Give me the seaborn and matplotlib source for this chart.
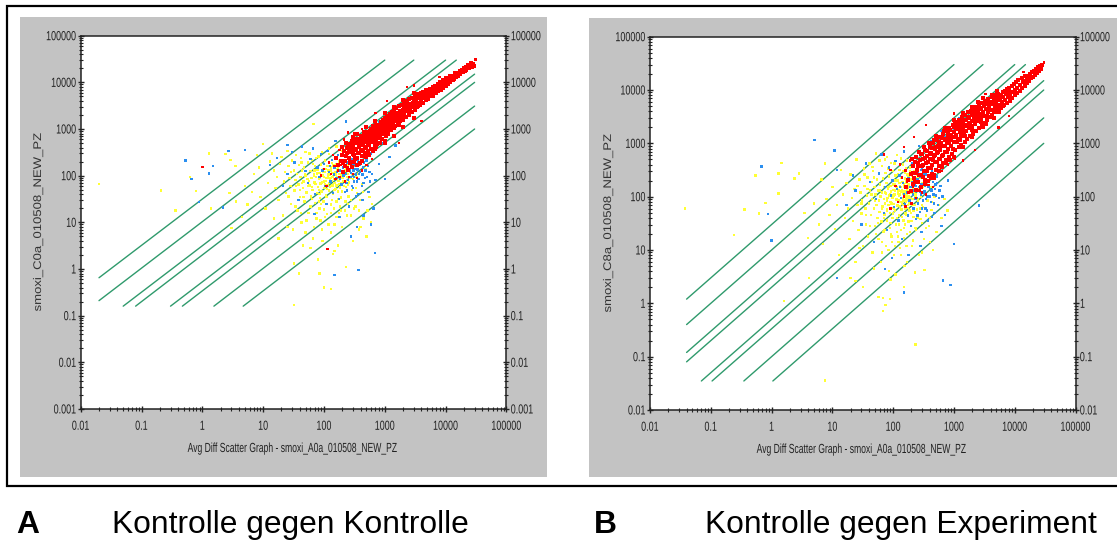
import pandas as pd
import matplotlib
matplotlib.use("Agg")
import matplotlib.pyplot as plt
from matplotlib.patches import Rectangle
from matplotlib.patheffects import AbstractPathEffect
from matplotlib.transforms import Affine2D
from matplotlib.ticker import LogLocator, NullFormatter
import seaborn as sns

# Linien (x0, y0, x1, y1)
lines_a = [(0.02, 0.65, 1000, 30000), (0.02, 0.21, 3000, 30000), (0.05, 0.16, 10000, 30000),
           (0.08, 0.16, 15000, 30000), (0.3, 0.16, 30000, 15000), (0.47, 0.16, 30000, 10000),
           (1.55, 0.16, 30000, 3100), (4.7, 0.16, 30000, 1000)]
lines_b = [(0.04, 1.2, 1000, 30000), (0.04, 0.4, 3000, 30000), (0.04, 0.12, 10000, 30000),
           (0.04, 0.08, 15000, 30000), (0.07, 0.035, 30000, 15000), (0.105, 0.035, 30000, 10000),
           (0.35, 0.035, 30000, 3000), (1.05, 0.035, 30000, 1000)]

yellow_a = [(0.02, 66), (0.21, 48), (0.63, 95), (0.79, 47), (0.36, 18), (1.29, 300), (2.4, 290), (2.9, 215),
            (3.5, 160), (10, 480), (8, 280), (67, 1280), (39, 0.8), (100, 0.4), (130, 0.37), (32, 0.17),
            (1.4, 20), (2.8, 42), (3.6, 28), (5, 60), (6.5, 45), (7, 110), (8.5, 150), (4.5, 13), (3, 7.5),
            (5.5, 24), (9, 35), (11, 20), (12, 70), (13, 200), (14, 300), (15, 130), (16, 55), (17, 95), (18, 30),
            (19, 180), (20, 250), (21, 14), (22, 75), (23, 120), (24, 42), (25, 340), (26, 160), (27, 90),
            (28, 60), (29, 25), (30, 210), (31, 7), (32, 130), (33, 48), (34, 80), (35, 280), (36, 110), (37, 18),
            (38, 65), (39, 170), (40, 35), (41, 95), (42, 240), (43, 10), (44, 130), (45, 55), (46, 75), (47, 150),
            (48, 28), (49, 105), (50, 320), (52, 44), (54, 85), (55, 190), (56, 16), (58, 62), (60, 125), (61, 36),
            (62, 90), (64, 220), (65, 50), (66, 4.5), (68, 110), (70, 72), (71, 26), (72, 160), (74, 95), (75, 12),
            (76, 42), (78, 135), (80, 58), (81, 260), (82, 84), (84, 20), (85, 115), (86, 33), (88, 68), (90, 175),
            (91, 46), (92, 7), (94, 100), (96, 140), (98, 28), (100, 75), (102, 55), (104, 210), (105, 120),
            (108, 38), (110, 88), (112, 15), (114, 160), (115, 64), (118, 105), (120, 48), (122, 290), (125, 80),
            (128, 130), (130, 24), (132, 60), (135, 185), (138, 95), (140, 40), (145, 70), (148, 115), (150, 9),
            (152, 150), (155, 52), (160, 240), (165, 85), (170, 32), (175, 125), (180, 66), (185, 170), (190, 18),
            (195, 100), (200, 46), (205, 210), (210, 78), (220, 130), (225, 28), (230, 58), (240, 95), (250, 160),
            (255, 36), (260, 72), (270, 120), (280, 14), (290, 50), (300, 85), (310, 180), (330, 22), (350, 42),
            (360, 110), (380, 7), (400, 30), (420, 65), (450, 12), (480, 140), (500, 5), (520, 18), (560, 35),
            (600, 10), (140, 2.1), (80, 1.6), (60, 2.8), (45, 3.2), (150, 2.4), (32, 1.3), (230, 1.1), (170, 3.2),
            (300, 4), (400, 8), (620, 25), (85, 0.8), (50, 6), (95, 4), (25, 8), (18, 4.5), (15, 12), (130, 6), (200, 8)]
yellow_a2 = [(57, 78), (63, 58), (69, 98), (73, 66), (77, 112), (83, 50), (87, 88), (93, 72), (97, 120), (101, 95),
             (103, 66), (107, 140), (109, 78), (113, 52), (117, 92), (119, 130), (121, 70), (124, 105), (127, 58),
             (129, 90), (131, 150), (133, 76), (137, 115), (139, 62), (141, 98), (144, 165), (146, 84), (149, 50),
             (151, 120), (153, 70), (157, 105), (159, 180), (161, 62), (163, 135), (167, 92), (169, 46), (172, 150),
             (174, 76), (177, 200), (179, 110), (182, 56), (184, 130), (187, 88), (192, 170), (194, 70), (198, 125),
             (202, 90), (207, 150), (212, 60), (217, 195), (222, 105), (228, 75), (232, 140), (238, 180), (243, 110),
             (248, 64), (256, 210), (264, 130), (272, 88), (282, 170), (295, 110), (305, 230), (320, 140), (345, 95),
             (70, 130), (50, 100), (55, 60), (44, 70), (40, 50), (66, 180), (85, 40), (110, 35), (135, 30), (160, 28),
             (90, 25), (60, 22), (75, 16), (105, 13), (130, 16), (185, 22), (220, 18), (280, 30), (340, 55),
             (26, 36), (34, 22), (42, 16), (52, 11), (68, 8), (88, 11), (118, 9), (160, 13), (190, 34), (250, 25),
             (35, 60), (29, 120), (43, 190), (58, 300), (74, 240), (92, 320), (120, 380), (160, 420), (200, 340),
             (46, 35), (64, 32), (82, 28), (100, 19), (145, 20), (175, 16), (240, 14), (310, 20), (380, 18), (440, 45)]
blue_a = [(0.53, 210), (1.5, 160), (0.66, 85), (1.3, 112), (0.89, 27), (2.2, 21), (2.7, 340), (5, 360), (25, 450),
          (230, 1440), (370, 0.95), (690, 2.2), (150, 0.75), (13, 170), (17, 240), (21, 60), (25, 110), (30, 320),
          (33, 190), (38, 30), (44, 420), (50, 125), (55, 70), (60, 230), (66, 380), (72, 40), (78, 150), (85, 95),
          (90, 290), (100, 180), (105, 60), (110, 25), (115, 340), (120, 120), (128, 75), (135, 220), (140, 42),
          (150, 150), (155, 550), (160, 90), (170, 280), (175, 32), (180, 130), (190, 410), (195, 65), (200, 200),
          (210, 100), (215, 620), (220, 45), (230, 160), (240, 300), (250, 82), (255, 130), (260, 22), (270, 210),
          (280, 115), (285, 480), (290, 60), (300, 170), (310, 95), (320, 280), (330, 140), (340, 36), (350, 75),
          (360, 200), (380, 110), (400, 320), (420, 60), (440, 150), (470, 90), (500, 210), (540, 45), (560, 120),
          (600, 300), (650, 20), (700, 80), (800, 180), (1000, 85), (900, 500), (1100, 820), (1300, 1000), (800, 1400),
          (450, 14), (350, 8), (600, 9), (1200, 250), (1500, 440), (280, 5), (180, 13), (70, 15),
          (165, 120), (185, 85), (205, 150), (225, 110), (235, 70), (245, 190), (265, 130), (275, 95), (295, 230),
          (305, 130), (315, 75), (325, 180), (335, 105), (345, 250), (355, 135), (370, 85), (385, 170), (395, 120),
          (410, 220), (430, 105), (450, 70), (460, 190), (480, 130), (510, 95), (530, 160), (570, 75), (620, 110),
          (240, 48), (300, 55), (370, 40), (430, 30), (125, 160), (145, 105), (95, 130)]
red_out_a = [(1.0, 155), (115, 2.7), (31000, 31000), (3000, 8500), (8000, 13000), (1700, 500), (4000, 1500), (90, 100),
             (110, 60), (100, 140), (120, 190), (130, 110), (140, 280), (150, 160), (155, 85), (165, 230), (170, 130),
             (180, 360), (190, 170), (210, 120), (215, 600), (245, 150), (320, 800), (280, 170), (220, 75), (300, 110),
             (260, 95), (380, 170), (350, 90), (420, 130), (500, 170), (620, 230), (180, 95), (250, 850), (420, 1000),
             (700, 2200), (1100, 4000), (2300, 8000)]
red_a = [(29000, 22000), (28000, 25000), (27000, 21500), (26500, 26500), (25500, 23500),
         (24500, 20000), (23500, 24000), (23000, 20500), (22000, 18500), (21500, 21500), (20500, 17500), (20000, 20000),
         (19000, 16500), (18500, 18500), (17500, 15000), (17000, 17500), (16000, 14000), (16000, 16000), (15000, 13200),
         (14500, 15500), (14000, 12000), (13500, 13800), (13000, 11000), (12500, 12600), (12000, 10000), (12000, 14000),
         (11200, 11500), (11000, 9000), (10500, 10200), (10000, 8200), (10000, 12200), (9500, 9500), (9200, 7600),
         (9000, 11000), (8700, 8800), (8300, 7000), (8000, 10000), (8000, 8000), (7600, 6500), (7400, 9000), (7200, 7500),
         (6900, 6000), (6800, 8300), (6500, 7000), (6300, 5400), (6100, 7900), (6000, 6300), (5700, 5000), (5600, 7100),
         (5400, 5800), (5200, 4500), (5100, 6800), (5000, 5200), (4800, 7000), (4700, 4100), (4600, 5700), (4400, 4700),
         (4300, 6300), (4200, 3700), (4100, 5100), (4000, 4200), (3900, 5900), (3800, 3200), (3700, 4600), (3600, 3700),
         (3500, 5500), (3400, 2900), (3300, 4200), (3200, 3300), (3200, 5000), (3100, 2500), (3000, 3800), (2900, 3000),
         (2800, 4700), (2800, 2300), (2700, 3400), (2600, 2700), (2500, 4300), (2500, 2000), (2400, 3100), (2300, 2400),
         (2300, 3900), (2200, 1800), (2200, 2900), (2100, 2200), (2100, 3600), (2000, 1600), (2000, 2600), (1900, 2000),
         (1900, 3300), (1800, 1500), (1800, 2400), (1750, 1800), (1700, 3100), (1700, 1250), (1650, 2100), (1600, 1600),
         (1550, 2800), (1500, 1150), (1500, 1900), (1450, 1450), (1400, 2500), (1400, 1050), (1350, 1750), (1300, 1300),
         (1300, 2300), (1250, 950), (1250, 1600), (1200, 1150), (1200, 2100), (1150, 800), (1150, 1450), (1100, 1050),
         (1100, 1900), (1050, 700), (1050, 1300), (1000, 950), (1000, 1700), (1000, 560), (960, 1200), (930, 800),
         (920, 1550), (900, 600), (880, 1050), (860, 1400), (850, 720), (820, 500), (810, 950), (800, 1250), (790, 640),
         (760, 850), (750, 1150), (740, 480), (720, 580), (710, 1000), (700, 760), (680, 430), (670, 920), (650, 650),
         (640, 1150), (630, 520), (610, 800), (600, 380), (590, 980), (580, 600), (560, 720), (550, 460), (540, 880),
         (530, 330), (520, 560), (510, 780), (500, 640), (490, 410), (480, 300), (470, 720), (460, 520), (450, 850),
         (440, 350), (430, 620), (420, 260), (410, 450), (400, 700), (390, 540), (380, 310), (370, 420), (360, 620),
         (350, 240), (340, 500), (330, 350), (310, 200), (300, 430), (295, 290), (285, 560),
         (270, 370), (260, 240), (250, 480), (235, 310), (225, 210), (200, 280),
         (2950, 3300), (2650, 2350), (2450, 2900), (2250, 2600), (2050, 2400), (1950, 1750), (1850, 2200), (1720, 1900),
         (1620, 1350), (1520, 2200), (1430, 1700), (1380, 1250), (1320, 2000), (1270, 1400), (1220, 1800), (1170, 950),
         (1130, 1650), (1080, 1200), (1030, 1500), (990, 800), (950, 1050), (910, 1300), (870, 850), (840, 1100), (800, 700),
         (780, 1050), (740, 900), (720, 1250), (690, 620), (660, 800), (630, 1000), (610, 560), (590, 750), (570, 900),
         (550, 620), (530, 480), (520, 700), (500, 850), (480, 530), (470, 400), (450, 650), (440, 480), (420, 560),
         (410, 330), (395, 620), (380, 460), (365, 300), (355, 520), (340, 380), (325, 600), (315, 280), (300, 500),
         (290, 350), (275, 450), (265, 190), (255, 320), (240, 400), (230, 260), (215, 330), (205, 190), (195, 420),
         (6200, 5000), (5800, 7000), (5300, 6200), (4900, 4600), (4500, 5200), (4100, 3600), (3900, 4500), (3600, 5000),
         (3400, 3500), (3150, 4200), (2900, 3700), (2700, 2900), (3500, 3100), (2500, 3500), (2300, 3200), (2100, 2800),
         (1000, 2200), (700, 1500), (500, 1100), (2000, 4200), (3000, 6000), (1400, 3000), (1000, 500), (2000, 1100),
         (3000, 1700), (1400, 700), (700, 380)]
red_a2 = [(430, 210), (390, 190), (350, 170), (320, 230), (290, 150), (270, 200), (245, 130), (225, 160), (205, 120), (190, 210),
          (170, 170), (160, 240), (500, 250), (560, 280), (640, 340), (720, 420), (300, 660), (350, 780), (230, 500)]

yellow_b = [(0.038, 60), (0.36, 58), (0.24, 19), (0.54, 250), (1.46, 430), (1.3, 270), (2.4, 220), (2.8, 270), (7.5, 420),
            (1.3, 115), (0.8, 77), (0.62, 48), (6.6, 210), (1.6, 1.1), (7.5, 0.036), (235, 0.17), (68, 0.72), (57, 1.3),
            (68, 1.25), (88, 1.2), (75, 0.92), (4.1, 3), (20, 3), (24, 2.6), (32, 2), (150, 2), (330, 4.2), (3.5, 50),
            (5, 75), (4, 17), (6, 30), (7, 13), (8, 90), (9, 45), (10, 150), (11, 25), (12, 70), (13, 8), (14, 320),
            (15, 110), (16, 40), (17, 180), (18, 60), (19, 16), (20, 260), (21, 95), (22, 35), (23, 140), (24, 6),
            (25, 500), (26, 70), (27, 24), (28, 210), (29, 120), (30, 48), (31, 85), (32, 12), (33, 340), (34, 160),
            (35, 60), (36, 30), (37, 105), (38, 230), (39, 18), (40, 75), (41, 420), (42, 130), (43, 45), (44, 190),
            (45, 90), (46, 9), (47, 300), (48, 60), (49, 150), (50, 28), (51, 110), (52, 640), (53, 70), (54, 210),
            (55, 40), (56, 130), (57, 16), (58, 85), (59, 270), (60, 52), (61, 170), (62, 100), (63, 6), (64, 34),
            (65, 380), (66, 120), (67, 65), (68, 220), (69, 22), (70, 90), (71, 150), (72, 46), (73, 500), (74, 75),
            (75, 280), (76, 12), (77, 115), (78, 180), (79, 58), (80, 36), (81, 95), (82, 340), (83, 140), (84, 70),
            (85, 4), (86, 240), (87, 105), (88, 26), (89, 50), (90, 160), (91, 80), (92, 430), (93, 125), (94, 18),
            (95, 62), (96, 200), (97, 95), (98, 40), (99, 300), (100, 135), (102, 72), (104, 8), (105, 170), (106, 110),
            (108, 55), (110, 250), (112, 30), (113, 88), (115, 600), (117, 145), (118, 68), (120, 200), (122, 14), (124, 105),
            (126, 44), (128, 320), (130, 160), (132, 80), (134, 24), (136, 125), (138, 58), (140, 230), (142, 95), (145, 400),
            (147, 36), (150, 150), (152, 70), (154, 5), (156, 110), (158, 280), (160, 48), (163, 185), (166, 88), (168, 130),
            (170, 20), (173, 62), (175, 250), (178, 100), (180, 34), (183, 160), (186, 76), (190, 350), (193, 120), (196, 50),
            (200, 210), (205, 12), (208, 90), (212, 140), (216, 42), (220, 280), (225, 70), (230, 170), (235, 26), (240, 110),
            (245, 58), (250, 220), (258, 85), (265, 8), (270, 140), (280, 38), (290, 100), (300, 180), (310, 64), (320, 16),
            (335, 120), (350, 44), (370, 85), (390, 28), (410, 150), (430, 56), (450, 10), (480, 100), (520, 22), (560, 70),
            (620, 40), (700, 90), (780, 55), (110, 3.5), (48, 4.5), (90, 2.8), (170, 6), (230, 3.8), (300, 9), (130, 11),
            (65, 9), (28, 11), (210, 15), (400, 14)]
yellow_b2 = [(74, 120), (79, 85), (84, 150), (89, 110), (94, 75), (99, 170), (101, 105), (103, 60), (107, 130), (109, 200),
             (111, 90), (114, 150), (116, 70), (119, 115), (121, 260), (123, 130), (125, 85), (127, 180), (129, 110), (131, 65),
             (133, 150), (135, 230), (137, 95), (139, 130), (141, 75), (143, 190), (146, 115), (148, 300), (149, 85), (151, 170),
             (153, 125), (155, 60), (157, 220), (159, 100), (161, 150), (162, 340), (164, 80), (167, 195), (169, 115), (171, 260),
             (174, 145), (176, 70), (179, 175), (181, 125), (184, 230), (187, 95), (189, 300), (191, 150), (194, 75), (197, 195),
             (199, 125), (203, 250), (206, 160), (209, 70), (213, 210), (218, 120), (222, 170), (226, 300), (232, 105), (238, 200),
             (242, 140), (248, 260), (254, 90), (262, 180), (272, 130), (284, 230), (296, 70), (305, 150), (330, 200), (60, 130),
             (50, 85), (44, 110), (66, 60), (70, 40), (80, 55), (90, 32), (100, 48), (115, 40), (125, 30), (140, 42),
             (155, 30), (165, 45), (185, 55), (200, 35), (215, 55), (250, 40), (275, 60), (115, 22), (95, 14), (150, 17),
             (30, 75), (36, 45), (42, 28), (52, 20), (66, 14), (84, 10), (108, 12), (135, 8), (165, 12), (190, 22),
             (26, 160), (34, 260), (46, 360), (60, 480), (80, 560), (105, 420), (135, 520), (170, 480), (38, 140), (48, 230),
             (56, 32), (72, 24), (92, 20), (120, 18), (150, 26), (240, 24), (300, 32), (350, 26), (400, 40), (440, 80)]
blue_b = [(5.1, 1150), (10.9, 730), (0.68, 370), (0.87, 47), (1.0, 15), (1000, 13), (2600, 68), (660, 2.7), (880, 2.2),
          (150, 1.6), (12, 3), (73, 4.4), (12, 320), (22, 250), (17, 70), (24, 130), (30, 30), (36, 420), (42, 190),
          (48, 14), (52, 90), (58, 270), (64, 620), (70, 50), (74, 150), (80, 24), (86, 350), (92, 105), (98, 200),
          (104, 64), (110, 470), (116, 140), (122, 36), (128, 250), (134, 95), (140, 16), (146, 180), (150, 700), (156, 72),
          (162, 320), (168, 120), (174, 44), (180, 220), (186, 85), (192, 150), (198, 28), (204, 430), (210, 110), (216, 60),
          (222, 280), (228, 170), (234, 92), (240, 38), (246, 130), (252, 210), (258, 74), (264, 900), (270, 150), (276, 52),
          (282, 240), (288, 110), (294, 22), (300, 340), (310, 85), (320, 180), (330, 125), (340, 60), (350, 260), (360, 100),
          (375, 36), (390, 200), (405, 140), (420, 80), (440, 300), (460, 110), (480, 50), (500, 170), (520, 240), (550, 70),
          (580, 130), (620, 28), (650, 100), (700, 1300), (800, 200), (520, 900), (420, 1100), (620, 1700), (1000, 1800),
          (1200, 3000), (720, 45), (280, 12), (180, 8), (95, 7),
          (205, 190), (215, 130), (225, 230), (235, 160), (245, 95), (255, 280), (265, 190), (275, 125), (285, 320),
          (295, 170), (305, 230), (315, 120), (325, 270), (335, 160), (345, 90), (355, 200), (365, 310), (380, 150), (395, 100),
          (410, 240), (430, 130), (450, 190), (470, 75), (490, 140), (510, 105), (530, 180), (570, 95), (600, 160),
          (190, 280), (170, 190), (150, 110), (130, 150), (300, 60), (360, 55), (440, 42), (250, 44)]
red_out_b = [(30000, 33000), (8000, 3300), (2200, 750), (1400, 480), (90, 320), (70, 620), (150, 850), (220, 1300), (350, 2200),
             (90, 60), (110, 160), (120, 80), (130, 400), (140, 230), (150, 100), (160, 310), (170, 190), (180, 120), (190, 480),
             (240, 95), (300, 120), (210, 150), (380, 165), (480, 220), (620, 300), (800, 400), (1050, 520), (160, 65),
             (270, 130), (350, 110), (200, 75), (450, 150), (5400, 2000), (14000, 22000), (1000, 3600), (3300, 8500)]
red_b = [(28000, 29000), (27000, 24500), (26000, 28000), (25000, 22500), (24000, 26500), (23000, 20500),
         (22500, 24500), (21500, 19000), (21000, 23000), (20000, 17500), (19500, 21500), (18500, 16500), (18000, 20000),
         (17000, 15000), (17000, 18500), (16000, 13500), (16000, 17500), (15000, 15000), (14500, 12000), (14500, 18000),
         (13500, 14000), (13000, 11000), (13000, 17000), (12000, 12500), (12000, 9500), (11500, 15500), (11000, 11000),
         (11000, 8800), (10500, 14000), (10000, 10000), (10000, 8000), (9700, 13000), (9300, 9000), (9000, 7000), (9000, 12000),
         (8500, 8300), (8300, 6200), (8200, 11000), (8000, 9500), (7700, 7300), (7500, 5800), (7400, 10500), (7200, 8500),
         (7000, 6600), (6800, 9500), (6700, 5300), (6500, 7500), (6300, 9000), (6100, 6000), (6000, 4700), (5900, 8000),
         (5700, 6800), (5500, 5300), (5400, 8600), (5300, 4200), (5200, 7000), (5000, 5800), (4900, 8000), (4800, 3800),
         (4700, 4800), (4600, 6600), (4400, 5400), (4300, 3400), (4200, 7400), (4100, 4300), (4000, 6000), (3900, 3100),
         (3800, 5000), (3700, 6800), (3600, 3800), (3500, 2700), (3500, 5500), (3400, 4400), (3300, 6200), (3200, 3300),
         (3100, 2400), (3100, 5000), (3000, 3900), (2900, 5800), (2900, 2100), (2800, 2900), (2750, 4500), (2700, 3500),
         (2600, 5300), (2600, 1900), (2500, 2600), (2450, 4100), (2400, 3200), (2350, 4900), (2300, 1700), (2250, 2300),
         (2200, 3700), (2150, 2900), (2100, 4500), (2050, 1500), (2000, 2100), (2000, 3400), (1950, 2600), (1900, 4100),
         (1850, 1350), (1800, 1900), (1800, 3000), (1750, 2350), (1700, 3800), (1650, 1200), (1600, 1700), (1600, 2700),
         (1550, 2100), (1500, 3400), (1500, 1050), (1450, 1500), (1400, 2400), (1400, 1900), (1350, 3100), (1300, 950),
         (1300, 1350), (1250, 2100), (1250, 1650), (1200, 2800), (1200, 850), (1150, 1200), (1100, 1850), (1100, 1450),
         (1050, 2500), (1050, 750), (1000, 1050), (1000, 1650), (980, 1300), (950, 2200), (930, 640), (900, 900), (890, 1450),
         (860, 1150), (840, 1950), (820, 560), (800, 780), (790, 1300), (770, 1000), (750, 1700), (730, 480), (710, 680),
         (700, 1150), (680, 880), (660, 1500), (650, 420), (630, 590), (620, 1000), (600, 760), (590, 1300), (570, 370),
         (560, 510), (550, 880), (530, 660), (520, 1150), (510, 320), (490, 450), (480, 770), (470, 570), (460, 1000),
         (440, 270), (430, 390), (420, 660), (410, 500), (400, 850), (385, 240), (370, 340), (360, 570), (350, 430),
         (340, 740), (330, 210), (320, 300), (310, 500), (300, 370), (290, 640), (270, 260), (260, 430), (250, 320),
         (240, 550), (230, 190), (220, 220), (210, 370), (200, 270),
         (3050, 3300), (2750, 2500), (2550, 3600), (2350, 2700), (2150, 3400), (1950, 1800), (1850, 2400), (1720, 3100),
         (1620, 2200), (1520, 1400), (1430, 2800), (1380, 1650), (1320, 2300), (1270, 1150), (1220, 1900), (1170, 2500),
         (1130, 1050), (1080, 2100), (1030, 1300), (990, 2000), (950, 800), (910, 1250), (870, 1800), (840, 1000), (800, 1500),
         (780, 680), (740, 1200), (720, 900), (690, 1700), (660, 600), (630, 1250), (610, 880), (590, 500), (570, 1050),
         (550, 700), (530, 1300), (520, 450), (500, 860), (480, 600), (470, 1150), (450, 480), (440, 820), (420, 350),
         (410, 640), (395, 1000), (380, 440), (365, 720), (355, 300), (340, 530), (325, 860), (315, 400), (300, 620), (290, 260),
         (275, 480), (265, 700), (255, 370), (240, 280), (230, 450), (215, 280), (205, 500),
         (6400, 5000), (5800, 6400), (5300, 5100), (4900, 6800), (4500, 4100), (4100, 5600), (3900, 4200), (3600, 5800),
         (3400, 3300), (3150, 5700), (2900, 3400), (2700, 4600), (3500, 3200), (2500, 3100), (2300, 4400), (2100, 2600),
         (1000, 2700), (700, 1900), (500, 1400), (2000, 4900), (3000, 7200), (1400, 3700), (1000, 550), (2000, 1300),
         (3000, 2000), (1400, 850), (700, 420)]
red_b2 = [(470, 250), (420, 220), (380, 195), (340, 170), (310, 230), (285, 155), (255, 185), (235, 135), (215, 170), (195, 130),
          (175, 210), (165, 150), (560, 300), (640, 360), (730, 430), (860, 490), (3400, 2300), (4500, 3000), (5600, 3800),
          (4300, 8200), (5200, 9600), (2500, 6000)]

tick_vals_x = [0.01, 0.1, 1, 10, 100, 1000, 10000, 100000]
tick_labels_x = ["0.01", "0.1", "1", "10", "100", "1000", "10000", "100000"]
tick_vals_ya = [0.001, 0.01, 0.1, 1, 10, 100, 1000, 10000, 100000]
tick_labels_ya = ["0.001", "0.01", "0.1", "1", "10", "100", "1000", "10000", "100000"]
tick_vals_yb = tick_vals_ya[1:]
tick_labels_yb = tick_labels_ya[1:]

W, H = 1117, 542
arial = ["Liberation Sans", "DejaVu Sans"]

sns.set_style("white")
fig = plt.figure(figsize=(W / 100, H / 100), dpi=100, facecolor="white")


class Stretch(AbstractPathEffect):
    # schmale Schrift gibt es nicht, also Text in Laufrichtung stauchen
    def __init__(self, sx, anchor):
        super().__init__()
        self.sx = sx
        self.anchor = anchor

    def draw_path(self, renderer, gc, tpath, affine, rgbFace=None):
        ext = tpath.get_extents()
        a = {"left": ext.x0, "right": ext.x1, "center": (ext.x0 + ext.x1) / 2}[self.anchor]
        t = Affine2D().translate(-a, 0).scale(self.sx, 1).translate(a, 0)
        renderer.draw_path(gc, tpath, t + affine, rgbFace)


def rect(x0, y0, x1, y1, **kw):
    fig.add_artist(Rectangle((x0 / W, 1 - y1 / H), (x1 - x0) / W, (y1 - y0) / H, transform=fig.transFigure, zorder=-1, **kw))


rect(7, 5.5, 1125, 485.5, facecolor="white", edgecolor="black", linewidth=1.6)
rect(20, 17, 547, 477, facecolor="#c3c3c3", edgecolor="none")
rect(589, 18, 1117, 477, facecolor="#c3c3c3", edgecolor="none")


def panel(box, ylim, yticks, ylabels, lines, yellow, blue, red, red_out, ylab, xlab, ylab_x, ylab_y, xlab_x, xlab_y):
    x0, y0, x1, y1 = box
    ax = fig.add_axes([x0 / W, 1 - y1 / H, (x1 - x0) / W, (y1 - y0) / H], facecolor="white")
    ax.set_xscale("log")
    ax.set_yscale("log")
    for a, b, c, d in lines:
        sns.lineplot(x=[a, c], y=[b, d], color="#2f9a6c", linewidth=1.0, ax=ax, legend=False)
    pts = pd.DataFrame(yellow + blue + red_out, columns=["x", "y"])
    pts["k"] = ["y"] * len(yellow) + ["b"] * len(blue) + ["r"] * len(red_out)
    sns.scatterplot(data=pts, x="x", y="y", hue="k", palette={"y": "#ffff33", "b": "#2b8ff0", "r": "#ff0000"}, marker="s",
                    s=3.0, linewidth=0, legend=False, ax=ax, zorder=3)
    rp = pd.DataFrame(red, columns=["x", "y"])
    sns.scatterplot(data=rp, x="x", y="y", color="#ff0000", marker="s", s=8, linewidth=0, legend=False, ax=ax, zorder=4)
    ax.set_xlim(0.01, 100000)
    ax.set_ylim(*ylim)
    ax.set_xticks(tick_vals_x, tick_labels_x)
    ax.set_yticks(yticks, ylabels)
    ax.xaxis.set_minor_locator(LogLocator(base=10, subs=range(2, 10), numticks=20))
    ax.yaxis.set_minor_locator(LogLocator(base=10, subs=range(2, 10), numticks=20))
    ax.xaxis.set_minor_formatter(NullFormatter())
    ax.yaxis.set_minor_formatter(NullFormatter())
    ax.tick_params(axis="y", which="major", direction="inout", length=5, width=1, color="#222222", left=True, right=True,
                   labelleft=True, labelright=True, pad=0.5, labelsize=9.5, labelcolor="#222222")
    ax.tick_params(axis="y", which="minor", direction="inout", length=3, width=0.8, color="#222222", left=True, right=True)
    ax.tick_params(axis="x", which="major", direction="inout", length=5, width=1, color="#222222", bottom=True, top=False,
                   pad=6, labelsize=9.5, labelcolor="#222222")
    ax.tick_params(axis="x", which="minor", direction="inout", length=3, width=0.8, color="#222222", bottom=True, top=False)
    for t in ax.get_xticklabels():
        t.set_family(arial)
        t.set_path_effects([Stretch(0.68, "center")])
    for tk in ax.yaxis.get_major_ticks():
        tk.label1.set_family(arial)
        tk.label1.set_path_effects([Stretch(0.68, "right")])
        tk.label2.set_family(arial)
        tk.label2.set_path_effects([Stretch(0.68, "left")])
    for s in ax.spines.values():
        s.set_visible(True)
        s.set_color("#222222")
        s.set_linewidth(1.1)
    ax.set_xlabel("")
    ax.set_ylabel("")
    t = fig.text(ylab_x / W, 1 - ylab_y / H, ylab, rotation=90, ha="center", va="center", fontsize=8, color="#333333",
                 family=arial)
    t.set_path_effects([Stretch(1.18, "center")])
    t = fig.text(xlab_x / W, 1 - xlab_y / H, xlab, ha="center", va="center", fontsize=9.5, color="#222222", family=arial)
    t.set_path_effects([Stretch(0.65, "center")])
    return ax


panel((80.7, 35.7, 506.4, 409), (0.001, 100000), tick_vals_ya, tick_labels_ya, lines_a, yellow_a + yellow_a2, blue_a, red_a + red_a2,
      red_out_a, "smoxi_C0a_010508_NEW_PZ", "Avg Diff Scatter Graph - smoxi_A0a_010508_NEW_PZ", 38, 222, 293, 449)
panel((650, 36.7, 1075.5, 410), (0.01, 100000), tick_vals_yb, tick_labels_yb, lines_b, yellow_b + yellow_b2, blue_b, red_b + red_b2,
      red_out_b, "smoxi_C8a_010508_NEW_PZ", "Avg Diff Scatter Graph - smoxi_A0a_010508_NEW_PZ", 608, 223, 862, 450)

fig.text(16 / W, 1 - 533 / H, "A", fontsize=22.9, fontweight="bold", family=arial, color="black", va="baseline")
fig.text(112 / W, 1 - 533 / H, "Kontrolle gegen Kontrolle", fontsize=22.9, family=arial, color="black", va="baseline")
fig.text(594 / W, 1 - 533 / H, "B", fontsize=22.9, fontweight="bold", family=arial, color="black", va="baseline")
fig.text(705 / W, 1 - 533 / H, "Kontrolle gegen Experiment", fontsize=22.9, family=arial, color="black", va="baseline")

plt.savefig("out.png", dpi=100)
